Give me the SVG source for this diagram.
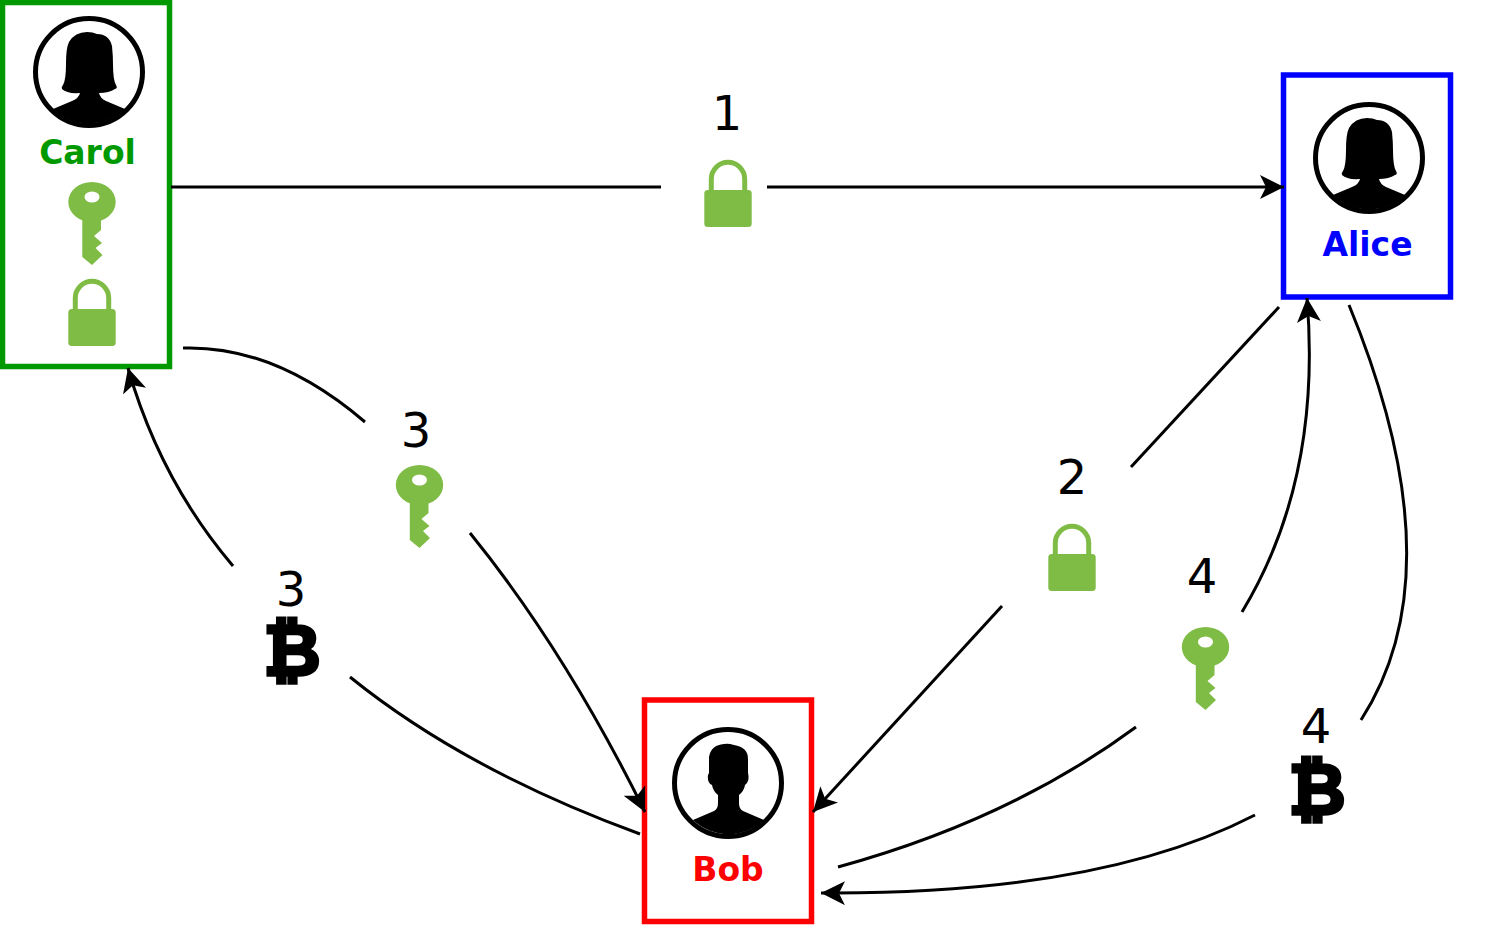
<svg xmlns="http://www.w3.org/2000/svg" width="1512" height="928" viewBox="0 0 1512 928">
<style>
.box{fill:#fff;stroke-width:5.500}
.ring{fill:#fff;stroke:#000;stroke-width:5}
.name{font:bold 33px "DejaVu Sans",sans-serif;text-anchor:middle}
.num{font:48px "DejaVu Sans",sans-serif;text-anchor:middle;fill:#000}
.btc{font:bold 70px "DejaVu Sans",sans-serif;text-anchor:middle;fill:#000;stroke:#000;stroke-width:3.500}
.c{fill:none;stroke:#000;stroke-width:3}
.g{fill:#7fbc46}
</style>
<defs>
<marker id="arrow" markerUnits="userSpaceOnUse" markerWidth="26" markerHeight="24" refX="24" refY="12" orient="auto" viewBox="0 0 26 24">
<path d="M0,0 L24,12 L0,24 L6,12 Z" fill="#000"/>
</marker>
<g id="her">
<circle class="ring" r="53.500"/>
<path d="M-36,37 L-17,29 Q-10,26 -9,21 Q-22,22 -27,17 Q-28,15 -26,13 Q-23,8 -23,-8 Q-23,-24 -20,-30 Q-14,-40 -2,-40 Q4,-40 8,-38 Q20,-38 23,-26 Q24,-16 24,-8 Q24,8 27,13 Q29,16 26,17 Q20,21 10,21 Q11,26 17,29 L36,37 A51.600,51.600 0 0 1 -36,37 Z"/>
</g>
<g id="him">
<circle class="ring" r="53.500"/>
<path d="M-35,37 L-14,28 Q-10,26 -10,20 L-10,12 Q-15,8 -16,2 Q-21,0 -20,-8 L-19,-10 L-19,-26 Q-17,-38 -4,-39 Q0,-40 6,-38 Q20,-36 20,-24 L20,-10 Q22,-2 17,2 Q16,8 11,12 L11,20 Q11,26 15,28 L36,37 A51.600,51.600 0 0 1 -35,37 Z"/>
</g>
<g id="key" class="g">
<path fill-rule="evenodd" d="M-23.7,20 A23.7,20 0 1 1 23.7,20 A23.7,20 0 1 1 -23.7,20 Z M-7.5,15 A7.5,5.5 0 1 0 7.5,15 A7.5,5.5 0 1 0 -7.5,15 Z"/>
<path d="M-9.7,33 L-9.7,75 L0,83 L10.5,73 L3.5,66 L10,61 L2,54 L9,48 L9,33 Z"/>
</g>
<g id="lock" class="g">
<rect x="-23.7" y="30" width="47.4" height="37" rx="3.500"/>
<path d="M-16.7,32 L-16.7,19 A16.7,16.7 0 0 1 16.7,19 L16.7,32" fill="none" stroke="#7fbc46" stroke-width="5"/>
</g>
</defs>
<rect width="1512" height="928" fill="#fff"/>
<g id="carol">
<rect class="box" x="2.500" y="2.500" width="167" height="364" stroke="#009900"/>
<use href="#her" x="89" y="72"/>
<text class="name" x="87.500" y="164" fill="#009900">Carol</text>
<use href="#key" x="92" y="182"/>
<use href="#lock" x="92" y="279"/>
</g>
<g id="alice">
<rect class="box" x="1283.500" y="75" width="167" height="222" stroke="#0000ff"/>
<use href="#her" x="1369" y="158"/>
<text class="name" x="1367.500" y="256" fill="#0000ff">Alice</text>
</g>
<g id="bob">
<rect class="box" x="644.500" y="700" width="167" height="221.500" stroke="#ff0000"/>
<use href="#him" x="728" y="783"/>
<text class="name" x="728" y="881" fill="#ff0000">Bob</text>
</g>
<g id="connectors">
<path class="c" d="M171,187 L661,187"/>
<path class="c" d="M767,187 L1284,187" marker-end="url(#arrow)"/>
<path class="c" d="M183,348 Q275,345 365,422"/>
<path class="c" d="M470,533 Q565,650 645,812" marker-end="url(#arrow)"/>
<path class="c" d="M640,834 Q465,770 350,677"/>
<path class="c" d="M233,566 Q160,480 128,368" marker-end="url(#arrow)"/>
<path class="c" d="M1279,307 L1131,467"/>
<path class="c" d="M1002,606 L813,812" marker-end="url(#arrow)"/>
<path class="c" d="M838,867 Q1010,820 1136,727"/>
<path class="c" d="M1242,612 Q1322,480 1307,298" marker-end="url(#arrow)"/>
<path class="c" d="M1349,305 Q1458,570 1361,720"/>
<path class="c" d="M1255,815 Q1100,895 821,893" marker-end="url(#arrow)"/>
</g>
<g id="step-1"><text class="num" x="727" y="130">1</text><use href="#lock" x="728" y="160"/></g>
<g id="step-2"><text class="num" x="1072" y="494">2</text><use href="#lock" x="1072" y="524"/></g>
<g id="step-3-key"><text class="num" x="416" y="447">3</text><use href="#key" x="419.500" y="465"/></g>
<g id="step-3-btc"><text class="num" x="291" y="606">3</text><text class="btc" x="292" y="675">₿</text></g>
<g id="step-4-key"><text class="num" x="1202" y="593">4</text><use href="#key" x="1205.500" y="627"/></g>
<g id="step-4-btc"><text class="num" x="1316" y="743">4</text><text class="btc" x="1317" y="814">₿</text></g>
</svg>
